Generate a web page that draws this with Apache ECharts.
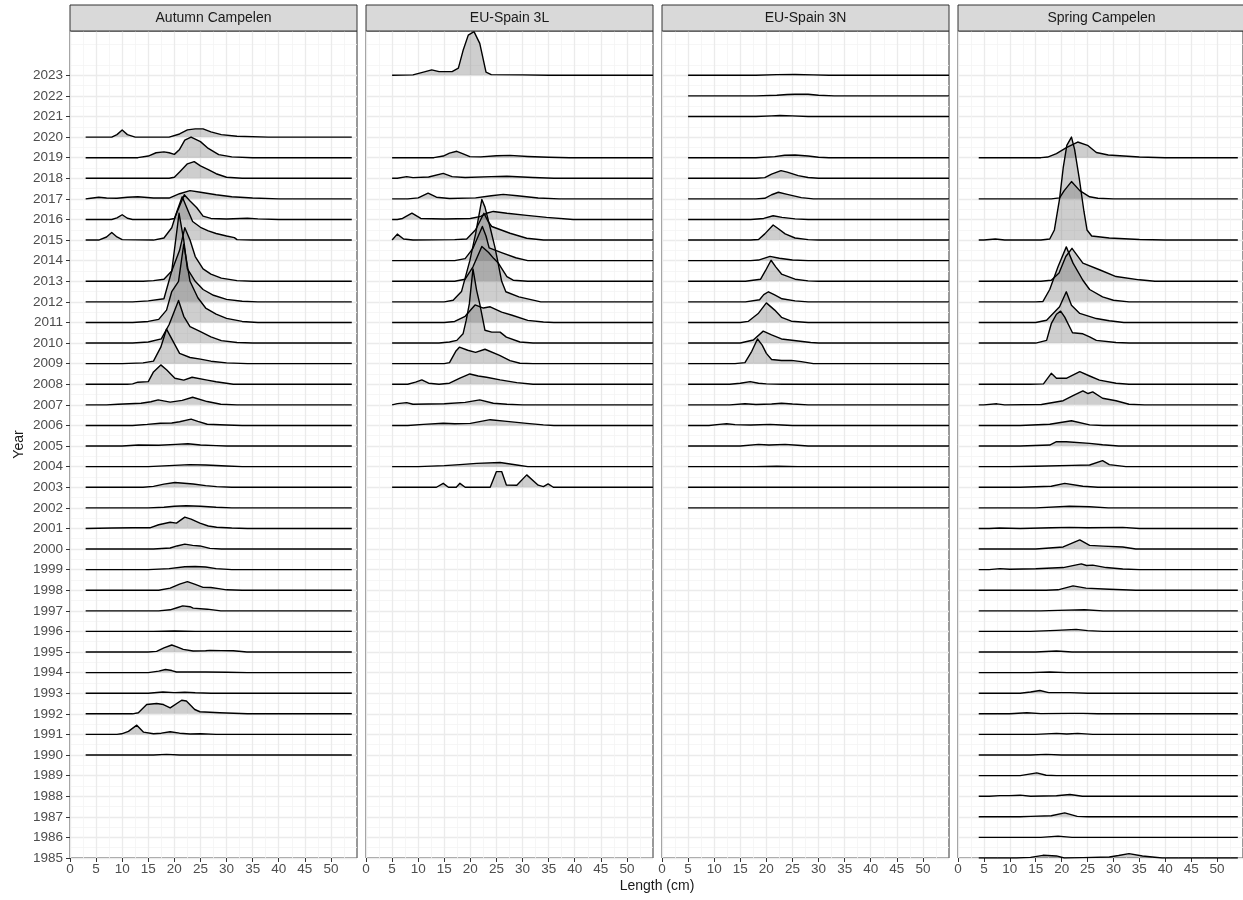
<!DOCTYPE html>
<html><head><meta charset="utf-8">
<script src="https://cdn.jsdelivr.net/npm/echarts@6/dist/echarts.min.js"></script>
<style>html,body{margin:0;padding:0;background:#fff}#c{width:1243px;height:900px}</style>
</head><body><div id="c"></div>
<script>
// ---- data ----
const panelNames = ['Autumn Campelen', 'EU-Spain 3L', 'EU-Spain 3N', 'Spring Campelen'];
const lengthStart = [3, 5, 5, 4];
const lengthEnd = [54, 55, 55, 54];
const xTickValues = [0, 5, 10, 15, 20, 25, 30, 35, 40, 45, 50];
const yearTickValues = [1985,1986,1987,1988,1989,1990,1991,1992,1993,1994,1995,1996,1997,1998,1999,2000,2001,2002,2003,2004,2005,2006,2007,2008,2009,2010,2011,2012,2013,2014,2015,2016,2017,2018,2019,2020,2021,2022,2023];

// each ridge: [year, [[length, height in year units], ...]]
const autumnCampelen = [
 [2020, [[8,0],[9,0.12],[10,0.34],[11,0.12],[12.5,0],[19,0],[21,0.15],[22.5,0.35],[24,0.4],[25.5,0.4],[27,0.25],[29,0.12],[32,0.04],[38,0]]],
 [2019, [[13,0],[15,0.08],[16.5,0.24],[18,0.28],[19,0.24],[20,0.16],[21,0.4],[22,0.85],[23.2,1.0],[25,0.78],[26.5,0.45],[28.5,0.15],[31,0.04],[35,0]]],
 [2018, [[19,0],[20,0.05],[21,0.3],[22.5,0.7],[23.8,0.81],[25,0.6],[26.5,0.42],[28,0.22],[30,0.05],[33,0]]],
 [2017, [[4,0.03],[5.5,0.08],[7,0.04],[9,0.03],[11,0.08],[13,0.1],[16,0.04],[19,0.04],[21,0.25],[23,0.4],[25,0.32],[28,0.2],[31,0.1],[35,0.04],[40,0]]],
 [2016, [[8,0],[9,0.08],[10,0.23],[11,0.06],[12,0],[19,0],[20,0.05],[21,0.65],[21.9,1.2],[23,0.9],[24.3,0.57],[25.5,0.16],[27,0.05],[30,0.02],[34,0.06],[36,0.03],[40,0]]],
 [2015, [[5.5,0],[7,0.15],[8,0.37],[9,0.15],[10,0.02],[16,0],[18,0.1],[19.5,0.6],[20.5,1.4],[21.5,2.1],[22.5,1.5],[23.5,0.9],[25,0.62],[26.5,0.45],[28,0.32],[30,0.2],[31.5,0.12],[32,0.02],[35,0]]],
 [2013, [[14,0],[16,0.03],[18,0.1],[19.5,0.5],[21,1.5],[22,2.6],[23,2.0],[24,1.2],[25.5,0.6],[27,0.35],[29,0.15],[32,0.03],[35,0]]],
 [2012, [[12,0],[15,0.05],[18,0.15],[19.5,1.5],[20.9,4.3],[21.8,3.0],[22.5,1.6],[24,1.0],[25.5,0.6],[27.5,0.32],[30,0.12],[33,0.03],[36,0]]],
 [2011, [[12,0],[15,0.05],[17,0.15],[18.5,0.6],[19.5,1.5],[20.8,2.0],[21.8,3.8],[23,2.0],[24.5,1.2],[26,0.7],[28,0.4],[30,0.2],[33,0.05],[36,0]]],
 [2010, [[12,0],[15,0.05],[17.5,0.2],[19,0.9],[20.8,2.07],[21.8,1.3],[23,0.8],[25,0.55],[27,0.3],[29,0.12],[32,0.03],[35,0]]],
 [2009, [[10,0],[14,0.04],[16,0.12],[17.4,0.8],[18.5,1.68],[19.5,1.2],[21,0.5],[23,0.3],[25,0.22],[27,0.12],[30,0.04],[34,0]]],
 [2008, [[11,0],[12,0.02],[13,0.1],[15,0.13],[16,0.6],[17.4,0.94],[18.5,0.7],[20.1,0.29],[21.8,0.2],[23.4,0.34],[26.3,0.2],[28,0.12],[31.3,0],[34,0]]],
 [2007, [[7,0],[9.2,0.03],[13.6,0.08],[15.5,0.15],[16.9,0.24],[19.2,0.13],[21.5,0.22],[23.5,0.37],[26.3,0.16],[28.9,0.03],[32,0]]],
 [2006, [[12,0],[14.8,0.05],[17.3,0.11],[19.5,0.12],[21,0.18],[23.2,0.31],[24.5,0.2],[26.3,0.06],[30,0.02],[33,0]]],
 [2005, [[10,0],[13.1,0.05],[17,0.04],[20.3,0.08],[22.6,0.11],[25,0.05],[28,0.02],[30,0]]],
 [2004, [[15,0],[19,0.05],[22.9,0.1],[26,0.08],[30,0.03],[33,0]]],
 [2003, [[14,0],[16,0.04],[18,0.15],[20.1,0.23],[23.6,0.16],[26,0.08],[28.1,0.03],[31,0]]],
 [2002, [[15,0],[18,0.03],[20,0.08],[22.3,0.1],[25,0.08],[28,0.03],[31,0]]],
 [2001, [[8,0.02],[12,0.03],[15.3,0.03],[17,0.18],[19.2,0.3],[20.4,0.26],[22,0.55],[23.2,0.45],[24.9,0.26],[26.5,0.12],[28.1,0.06],[31,0.02],[34,0]]],
 [2000, [[16,0],[19.2,0.05],[20.5,0.15],[22,0.24],[23.5,0.18],[24.9,0.15],[26.8,0.03],[29,0]]],
 [1999, [[15,0],[19,0.05],[22,0.14],[24,0.15],[26,0.13],[28,0.05],[31,0]]],
 [1998, [[17,0],[19.2,0.1],[21,0.3],[22.5,0.42],[24,0.28],[25.5,0.14],[27,0.13],[28.5,0.08],[30,0.02],[33,0]]],
 [1997, [[17,0],[19.2,0.05],[20.5,0.15],[21.6,0.24],[23,0.2],[23.6,0.13],[26.3,0.08],[28.9,0]]],
 [1996, [[16,0],[20,0.02],[24,0]]],
 [1995, [[15,0],[16.6,0.03],[18,0.2],[19.5,0.34],[20.5,0.25],[21.7,0.13],[23.6,0.05],[26,0.06],[26.8,0.08],[29,0.07],[31.3,0.06],[33.9,0]]],
 [1994, [[15,0],[17,0.07],[18.3,0.15],[19.5,0.1],[20.4,0.03],[26,0.03],[30,0.02],[34,0]]],
 [1993, [[15,0],[17.8,0.06],[20,0.03],[22,0.05],[24,0.02],[27,0]]],
 [1992, [[12,0],[13.1,0.05],[14.7,0.45],[16.6,0.5],[17.9,0.45],[19.2,0.29],[21.4,0.66],[22.3,0.62],[23.9,0.21],[24.9,0.1],[28.7,0.05],[34,0]]],
 [1991, [[9,0],[9.9,0.03],[11.2,0.15],[12.8,0.45],[14.1,0.11],[16,0.03],[17.5,0.06],[19.2,0.13],[21,0.06],[23,0.02],[25,0.03],[28,0]]],
 [1990, [[16,0],[18.5,0.03],[21,0]]]
];

const euSpain3L = [
 [2023, [[9,0.02],[11,0.15],[12.6,0.26],[14,0.18],[16.5,0.18],[17.7,0.35],[18.6,1.2],[19.6,1.95],[20.7,2.12],[21.8,1.55],[23,0.15],[24,0.03],[30,0.02],[35,0]]],
 [2019, [[13,0],[14.8,0.08],[16,0.22],[17.4,0.31],[18.5,0.2],[19.9,0.05],[22,0.04],[25,0.09],[27.6,0.11],[31,0.06],[35,0.02],[39,0]]],
 [2018, [[6,0],[7.8,0.08],[9,0.03],[12,0.06],[14.8,0.24],[16.5,0.08],[19,0.04],[24,0.08],[27,0.1],[32,0.04],[36,0]]],
 [2017, [[8,0],[10,0.05],[11.9,0.28],[13.5,0.08],[16,0.02],[21,0.05],[24,0.15],[26.3,0.22],[29,0.15],[33,0.04],[37,0]]],
 [2016, [[6,0],[7,0.05],[8.8,0.31],[10.5,0.05],[15,0.02],[20,0.05],[22,0.15],[23.1,0.3],[24.4,0.39],[27,0.3],[30.8,0.2],[34.6,0.1],[39.7,0]]],
 [2015, [[5,0.02],[6,0.29],[7.2,0.05],[9,0],[17,0.02],[19.3,0.05],[21,0.5],[22.6,1.3],[23.4,0.9],[24.1,0.66],[27.6,0.33],[30.8,0.09],[34,0]]],
 [2014, [[17,0],[19,0.1],[20.5,0.6],[22.3,1.66],[23,1.2],[23.6,0.62],[26.1,0.38],[28.7,0.14],[31,0]]],
 [2013, [[17,0],[19,0.1],[20.5,0.7],[22.2,1.69],[23.5,1.4],[24.5,1.1],[25.3,0.9],[27,0.22],[28.2,0.05],[31,0]]],
 [2012, [[15,0],[16.7,0.08],[18.3,0.5],[19.9,2.0],[21,3.3],[22.2,4.97],[22.8,4.6],[23.8,3.6],[24.7,2.66],[25.3,1.9],[26,1.0],[26.8,0.49],[29.3,0.24],[33.5,0]]],
 [2011, [[15,0],[17,0.05],[19,0.3],[20.9,0.85],[22.5,0.7],[23.8,0.76],[26,0.5],[28,0.35],[31,0.1],[34,0.02],[36,0]]],
 [2010, [[14,0],[16,0.05],[17.4,0.13],[18.6,0.45],[19.2,1.1],[19.8,1.9],[20.5,3.6],[21.2,2.56],[21.8,1.9],[22.8,0.62],[24.1,0.53],[25.7,0.53],[26.9,0.29],[29.5,0.05],[32,0]]],
 [2009, [[15,0],[16,0.05],[17.2,0.6],[17.9,0.8],[19.5,0.65],[21,0.55],[22.8,0.7],[25.6,0.4],[27.6,0.15],[29.5,0.02],[32,0]]],
 [2008, [[8,0],[9.5,0.1],[10.7,0.21],[12,0.05],[14,0],[16,0.05],[18,0.3],[19.9,0.5],[21.5,0.4],[23.1,0.34],[25.7,0.21],[28.9,0.08],[32,0]]],
 [2007, [[5,0.02],[6,0.06],[7.8,0.11],[9,0.03],[15,0.05],[19,0.12],[21.8,0.24],[24.4,0.08],[27,0.03],[30,0]]],
 [2006, [[8,0],[11,0.05],[14.8,0.11],[17,0.08],[20,0.1],[23.8,0.28],[27,0.2],[30.8,0.1],[34,0.03],[36,0]]],
 [2004, [[10,0],[15,0.05],[18,0.1],[21.2,0.16],[25.7,0.2],[28.9,0.08],[31,0]]],
 [2003, [[13.5,0],[14.8,0.19],[15.8,0],[17.3,0],[18,0.19],[19,0],[23.8,0],[25,0.76],[26,0.76],[26.9,0.11],[28.9,0.1],[30.8,0.6],[33,0.1],[34,0.03],[34.9,0.16],[35.9,0]]]
];

const euSpain3N = [
 [2023, [[18,0],[22,0.03],[25.5,0.04],[29,0.02],[32,0]]],
 [2022, [[18,0],[22,0.03],[24,0.07],[25.5,0.08],[28,0.08],[30,0.03],[33,0]]],
 [2021, [[18,0],[21,0.03],[22.6,0.05],[25,0.03],[28,0]]],
 [2019, [[18,0],[21.6,0.05],[23.5,0.12],[25.5,0.13],[28,0.08],[30,0.02],[32,0]]],
 [2018, [[18,0],[19.7,0.03],[21,0.2],[22.8,0.37],[24,0.3],[26.1,0.13],[28,0.04],[30,0]]],
 [2017, [[18,0],[19.7,0.03],[21,0.2],[22.3,0.32],[24,0.22],[26.7,0.06],[29,0]]],
 [2016, [[17,0],[19.5,0.05],[21.3,0.18],[23,0.1],[25.5,0.03],[28,0]]],
 [2015, [[17,0],[18.5,0.03],[19.7,0.3],[21.3,0.73],[22.3,0.55],[23.6,0.3],[25.5,0.1],[28,0.02],[30,0]]],
 [2014, [[17,0],[18.5,0.03],[20.7,0.21],[22.5,0.12],[25,0.03],[28,0]]],
 [2013, [[16,0],[18.9,0.1],[19.8,0.5],[20.9,1.02],[21.8,0.7],[22.9,0.35],[25.5,0.1],[28,0.02],[30,0]]],
 [2012, [[16,0],[18.7,0.1],[19.5,0.35],[20.4,0.49],[21.5,0.35],[23,0.15],[25.5,0.05],[28,0]]],
 [2011, [[15,0],[16.5,0.05],[18.5,0.45],[20,0.95],[21.6,0.6],[22.9,0.25],[24.8,0.06],[28,0]]],
 [2010, [[15,0],[17.5,0.15],[19.4,0.58],[21,0.4],[22.9,0.2],[26.1,0.1],[28.5,0.03],[30,0]]],
 [2009, [[14,0],[15.9,0.05],[17.2,0.6],[18.3,1.2],[19.2,0.9],[20,0.5],[21,0.2],[22.9,0.15],[24.8,0.16],[26.7,0.1],[29,0]]],
 [2008, [[13,0],[15,0.05],[16.9,0.13],[18.5,0.05],[20,0.02],[23,0]]],
 [2007, [[13,0],[15.9,0.05],[18,0.02],[21,0.04],[22.9,0.08],[25,0.04],[28,0]]],
 [2006, [[9,0],[11,0.05],[12.4,0.08],[14,0.04],[17,0.02],[20.7,0.05],[23,0.02],[25,0]]],
 [2005, [[15,0],[18.5,0.08],[20.5,0.05],[23.6,0.08],[26,0.04],[28,0]]],
 [2004, [[18,0],[22,0.02],[26,0]]],
 [2003, []],
 [2002, []]
];

const springCampelen = [
 [2019, [[16,0],[17.3,0.03],[19,0.2],[21,0.5],[23.1,0.76],[25,0.6],[26.7,0.25],[29,0.13],[35,0.03],[40,0]]],
 [2017, [[18,0],[19.6,0.05],[20.5,0.4],[21.9,0.84],[23.5,0.4],[25.4,0.1],[27,0.03],[30,0]]],
 [2015, [[5,0],[7.2,0.05],[9,0],[16,0],[17.7,0.05],[18.6,0.49],[19.6,2.0],[20.3,3.5],[21,4.6],[21.9,5.0],[22.5,4.4],[23.4,3.0],[24.3,1.4],[24.9,0.49],[25.8,0.2],[29.2,0.1],[35,0.03],[40,0]]],
 [2013, [[16,0],[18,0.05],[19.5,0.4],[20.8,1.2],[22,1.6],[24.1,0.88],[27.3,0.56],[30.5,0.23],[35,0.07],[38,0]]],
 [2012, [[15,0],[16.4,0.02],[17.7,0.6],[19.3,1.7],[20.9,2.67],[22.2,1.88],[24.1,1.05],[25.4,0.6],[27.9,0.24],[30,0.08],[33,0]]],
 [2011, [[15,0],[17.1,0.11],[19.6,0.76],[20.9,1.49],[21.9,0.84],[23.5,0.44],[26.7,0.19],[29.2,0.08],[32,0]]],
 [2010, [[15,0],[17.1,0.13],[18,0.94],[19,1.4],[19.8,1.55],[20.6,1.26],[22.1,0.5],[24.1,0.45],[25.4,0.3],[26.7,0.13],[30.5,0.03],[33,0]]],
 [2008, [[14,0],[16.5,0.02],[18,0.53],[19,0.29],[20.9,0.29],[23.5,0.61],[25.4,0.4],[27.3,0.2],[30.5,0.05],[33,0]]],
 [2007, [[5,0],[7.5,0.05],[9,0],[16.1,0.02],[20.3,0.2],[22.2,0.45],[24.1,0.68],[25.1,0.55],[26,0.63],[27.9,0.32],[30.5,0.2],[33,0.03],[36,0]]],
 [2006, [[12,0],[17.7,0.06],[21.9,0.23],[25.4,0.03],[28,0]]],
 [2005, [[12,0],[17.7,0.05],[19,0.21],[20.9,0.21],[25.4,0.13],[27.9,0.06],[31,0]]],
 [2004, [[10,0],[15,0.02],[22,0.06],[25.4,0.08],[27.9,0.29],[29.2,0.1],[32.4,0]]],
 [2003, [[12,0],[18,0.05],[20.6,0.19],[24.1,0.05],[27,0]]],
 [2002, [[15,0],[21.5,0.08],[25.4,0.05],[29,0]]],
 [2001, [[6,0],[8,0.02],[12,0],[18,0.03],[21.5,0.05],[25,0.03],[31.8,0.05],[35,0]]],
 [2000, [[15,0],[20.3,0.1],[23.5,0.44],[25.4,0.18],[28,0.14],[31.8,0.1],[34.3,0]]],
 [1999, [[6,0],[8.1,0.05],[10,0.02],[15,0.04],[20.3,0.1],[23.8,0.28],[24.8,0.2],[26,0.22],[28.6,0.1],[31.8,0.03],[35,0]]],
 [1998, [[17,0],[19.3,0.02],[22.2,0.21],[24.7,0.1],[29.2,0.05],[34.3,0]]],
 [1997, [[16,0],[19.3,0.02],[24.4,0.05],[28,0]]],
 [1996, [[14,0],[19,0.05],[22.8,0.1],[25,0.04],[28,0]]],
 [1995, [[15,0],[19,0.05],[22,0]]],
 [1994, [[14,0],[17.7,0.03],[21,0]]],
 [1993, [[12,0],[14,0.06],[15.8,0.13],[17.5,0.03],[21.6,0.03],[25,0]]],
 [1992, [[10,0],[13.3,0.05],[16,0.01],[21.6,0.02],[24.1,0.02],[27,0]]],
 [1991, [[15,0],[19,0.05],[21,0.02],[23.1,0.05],[26,0]]],
 [1990, [[14,0],[17,0.03],[20,0]]],
 [1989, [[12,0],[15.2,0.13],[17,0.02],[19,0]]],
 [1988, [[6,0],[8.1,0.03],[10,0.03],[12,0.05],[14,0],[19,0.02],[21.6,0.08],[24,0]]],
 [1987, [[12,0],[14,0.02],[18,0.05],[20.6,0.19],[23,0.02],[25,0]]],
 [1986, [[16,0],[19.3,0.06],[22,0]]],
 [1985, [[11.3,0],[14,0.03],[16.4,0.13],[19,0.1],[20.5,0],[24.1,0.02],[29.2,0.05],[31,0.12],[33,0.21],[35.6,0.1],[39.4,0]]]
];

const panelRidges = [autumnCampelen, euSpain3L, euSpain3N, springCampelen];

// ---- layout ----
const panelLeft = [70, 366, 662, 958];
const panelWidth = 287;
const panelTop = 31;
const panelHeight = 827;
const FONT = '"Liberation Sans", Arial, sans-serif';

const grids = [], xAxes = [], yAxes = [], series = [], graphics = [];
panelNames.forEach((name, p) => {
  grids.push({left: panelLeft[p], top: panelTop, width: panelWidth, height: panelHeight,
    show: true, backgroundColor: '#fff', borderColor: '#333', borderWidth: 1, containLabel: false});
  xAxes.push({type: 'value', gridIndex: p, min: 0, max: 55, interval: 5,
    axisLine: {show: false},
    axisTick: {show: true, length: 4, lineStyle: {color: '#333', width: 1}, customValues: xTickValues},
    axisLabel: {color: '#4D4D4D', fontSize: 13.5, fontFamily: FONT, margin: 4, customValues: xTickValues,
      formatter: v => String(v)},
    splitLine: {show: true, lineStyle: {color: '#EBEBEB', width: 1.3}},
    minorTick: {show: false, splitNumber: 2},
    minorSplitLine: {show: true, lineStyle: {color: '#F4F4F4', width: 0.8}}
  });
  yAxes.push({type: 'value', gridIndex: p, min: 1985, max: 2025.15, interval: 1,
    name: p === 0 ? 'Year' : '', nameLocation: 'middle', nameGap: 44, nameRotate: 90,
    nameTextStyle: {color: '#1A1A1A', fontSize: 14, fontFamily: FONT},
    axisLine: {show: false},
    axisTick: {show: p === 0, length: 4, lineStyle: {color: '#333', width: 1}, customValues: yearTickValues},
    axisLabel: {show: p === 0, color: '#4D4D4D', fontSize: 13.5, fontFamily: FONT, margin: 7, customValues: yearTickValues,
      formatter: v => String(v)},
    splitLine: {show: true, lineStyle: {color: '#EBEBEB', width: 1.3}},
    minorTick: {show: false, splitNumber: 2},
    minorSplitLine: {show: true, lineStyle: {color: '#F4F4F4', width: 0.8}}
  });
  // strip
  graphics.push({type: 'rect', shape: {x: panelLeft[p], y: 5, width: panelWidth, height: 26},
    style: {fill: '#D9D9D9', stroke: '#333', lineWidth: 1}, z: 10});
  graphics.push({type: 'text', x: panelLeft[p] + panelWidth / 2, y: 18,
    style: {text: name, fill: '#1A1A1A', font: '14px ' + FONT, textAlign: 'center', textVerticalAlign: 'middle'}, z: 11});
  // ridges: upper years first so lower ones draw on top
  const ridges = panelRidges[p].slice().sort((a, b) => b[0] - a[0]);
  ridges.forEach(([year, pts]) => {
    const data = [[lengthStart[p], year]];
    pts.forEach(([x, h]) => data.push([x, year + h]));
    data.push([lengthEnd[p], year]);
    series.push({type: 'line', xAxisIndex: p, yAxisIndex: p, data: data,
      showSymbol: false, symbol: 'none', silent: true, animation: false,
      lineStyle: {color: '#000', width: 1.4, join: 'round'},
      areaStyle: {origin: year, color: 'rgba(100,100,100,0.45)'}
    });
  });
});
graphics.push({type: 'text', x: 657, y: 886,
  style: {text: 'Length (cm)', fill: '#1A1A1A', font: '14px ' + FONT, textAlign: 'center', textVerticalAlign: 'middle'}});

const chart = echarts.init(document.getElementById('c'), null, {renderer: 'canvas'});
chart.setOption({animation: false, grid: grids, xAxis: xAxes, yAxis: yAxes, series: series, graphic: graphics});
</script></body></html>
